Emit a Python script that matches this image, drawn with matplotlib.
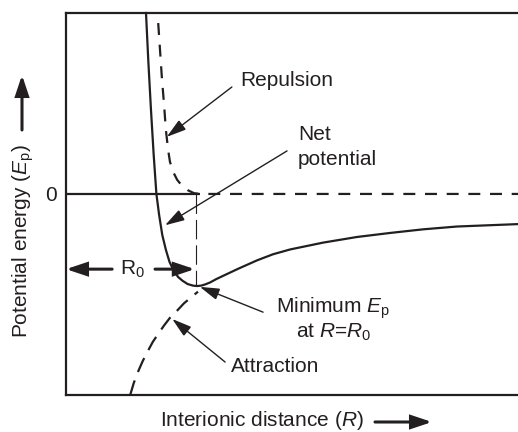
import matplotlib
matplotlib.use("Agg")
import matplotlib.pyplot as plt

plt.rcParams['font.family'] = ['Liberation Sans', 'DejaVu Sans']
plt.rcParams['mathtext.fontset'] = 'custom'
plt.rcParams['mathtext.rm'] = 'Liberation Sans'
plt.rcParams['mathtext.it'] = 'Liberation Sans:italic'
plt.rcParams['lines.scale_dashes'] = False

INK = '#231f20'
FS = 15

# Net potential energy E_p versus interionic distance R (arbitrary units)
net_r = [1.77, 1.82, 1.88, 1.94, 2.00, 2.06, 2.13, 2.21, 2.29, 2.385, 2.48, 2.58,
         2.69, 2.81, 2.90, 2.99, 3.08, 3.19, 3.32, 3.47, 3.81, 4.23, 4.58, 4.96,
         5.69, 6.44, 7.17, 7.90, 8.65, 10.0]
net_e = [4.50, 3.33, 2.09, 0.97, 0.00, -0.52, -1.02, -1.39, -1.69, -1.915, -2.065,
         -2.16, -2.24, -2.28, -2.29, -2.28, -2.25, -2.20, -2.12, -2.04, -1.86,
         -1.65, -1.50, -1.38, -1.21, -1.07, -0.97, -0.88, -0.81, -0.75]

# Repulsive contribution
rep_r = [2.04, 2.08, 2.12, 2.17, 2.21, 2.26, 2.30, 2.37, 2.46, 2.57, 2.70, 2.83,
         2.96, 10.0]
rep_e = [4.25, 3.58, 2.91, 2.21, 1.59, 1.09, 0.80, 0.55, 0.35, 0.20, 0.09, 0.02,
         0.00, 0.00]

# Attractive contribution
att_r = [1.42, 1.50, 1.59, 1.70, 1.81, 1.92, 2.04, 2.17, 2.30, 2.46, 2.61, 2.79,
         2.92]
att_e = [-5.00, -4.70, -4.43, -4.15, -3.91, -3.68, -3.48, -3.27, -3.08, -2.90,
         -2.72, -2.55, -2.43]

# Equilibrium separation and energy minimum
R0 = 2.88
E_MIN = -2.29
ZERO_END = 2.97

W, H = 518, 432
fig = plt.figure(figsize=(W / 100, H / 100), dpi=100)
ax = fig.add_axes([66 / W, 37 / H, 452 / W, 382 / H])
ax.set_xlim(0, 10)
ax.set_ylim(-5.0, 4.5)

for side in ('top', 'left', 'bottom'):
    ax.spines[side].set_linewidth(1.6)
    ax.spines[side].set_color(INK)
ax.spines['right'].set_visible(False)

ax.set_xticks([])
ax.set_yticks([0])
ax.set_yticklabels(['0'])
ax.tick_params(axis='y', length=0, pad=6.5, labelsize=FS, labelcolor=INK)

# Zero-energy reference
ax.plot([0, ZERO_END], [0, 0], color=INK, lw=1.6, solid_capstyle='butt')

# Curves
ax.plot(net_r, net_e, color=INK, lw=1.6, solid_joinstyle='round', clip_on=False)
ax.plot(rep_r, rep_e, color=INK, lw=1.6, dashes=(8.6, 7.0))
ax.plot(att_r, att_e, color=INK, lw=1.6, dashes=(11.0, 6.5))
ax.plot([R0, R0], [0, E_MIN], color=INK, lw=0.8, dashes=(14.0, 4.3))


def pointer(tip, tail, lw=1.0, hl=0.6, hw=0.18, scale=20, coords='data'):
    ax.annotate('', xy=tip, xytext=tail, xycoords=coords, textcoords=coords,
                arrowprops=dict(arrowstyle=f'-|>,head_length={hl},head_width={hw}',
                                lw=lw, color=INK, shrinkA=0, shrinkB=0,
                                mutation_scale=scale, joinstyle='miter'),
                annotation_clip=False)


THICK = dict(lw=2.2, hl=0.6, hw=0.2)

# R0 span
y_r0 = -1.87
pointer((0.0, y_r0), (1.02, y_r0), **THICK)
pointer((R0 - 0.03, y_r0), (1.97, y_r0), **THICK)
ax.text(1.48, y_r0, r'R$_\mathrm{0}$', fontsize=FS, color=INK, ha='center', va='center')

# Labels with pointers
ax.text(3.85, 2.69, 'Repulsion', fontsize=FS, color=INK, ha='left', va='baseline')
pointer((2.23, 1.42), (3.67, 2.66))

ax.text(5.13, 1.34, 'Net', fontsize=FS, color=INK, ha='left', va='baseline')
ax.text(5.13, 0.72, 'potential', fontsize=FS, color=INK, ha='left', va='baseline')
pointer((2.19, -0.78), (4.89, 1.07))

ax.text(5.91, -2.96, r'Minimum $E_\mathrm{p}$', fontsize=FS, color=INK,
        ha='center', va='baseline')
ax.text(5.91, -3.58, r'at $R$=$R_\mathrm{0}$', fontsize=FS, color=INK,
        ha='center', va='baseline')
pointer((2.96, -2.31), (4.36, -2.94))

ax.text(3.65, -4.43, 'Attraction', fontsize=FS, color=INK, ha='left', va='baseline')
pointer((2.35, -3.11), (3.52, -4.18))

# Axis titles with direction arrows
fig.text(23 / W, 1 - 241 / H, r'Potential energy ($E_\mathrm{p}$)', fontsize=FS,
         color=INK, rotation=90, ha='center', va='center')
pointer((22 / W, 1 - 75 / H), (22 / W, 1 - 130 / H), coords='figure fraction', **THICK)

fig.text(262 / W, 1 - 421 / H, r'Interionic distance ($R$)', fontsize=FS,
         color=INK, ha='center', va='center')
pointer((432 / W, 1 - 422 / H), (375 / W, 1 - 422 / H), coords='figure fraction', **THICK)

fig.savefig('out.png', dpi=100)
